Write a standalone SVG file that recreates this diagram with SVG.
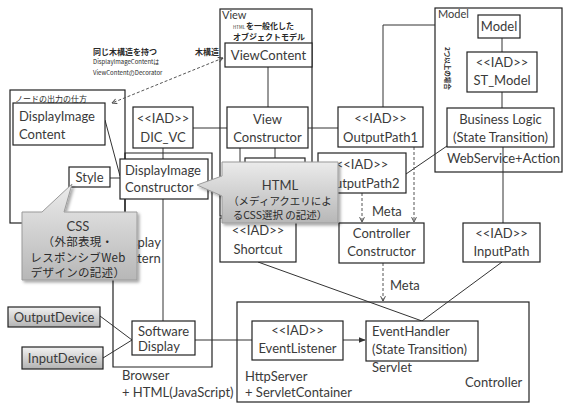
<svg xmlns="http://www.w3.org/2000/svg" width="565" height="406" viewBox="0 0 565 406">
<defs>
<linearGradient id="gCall" x1="0" y1="0" x2="0" y2="1"><stop offset="0" stop-color="#ebebeb"/><stop offset="1" stop-color="#b7b7b7"/></linearGradient>
<linearGradient id="gDev" x1="0" y1="0" x2="0" y2="1"><stop offset="0" stop-color="#f2f2f2"/><stop offset="1" stop-color="#b3b3b3"/></linearGradient>
<filter id="sh" x="-10%" y="-10%" width="130%" height="130%"><feDropShadow dx="2" dy="2" stdDeviation="1.5" flood-color="#000" flood-opacity="0.35"/></filter>
<marker id="ao" viewBox="0 0 10 10" refX="9" refY="5" markerWidth="6" markerHeight="6" orient="auto-start-reverse"><path d="M1,1 L9,5 L1,9" fill="none" stroke="#444" stroke-width="1.6"/></marker>
<marker id="af" viewBox="0 0 10 10" refX="9" refY="5" markerWidth="7" markerHeight="7" orient="auto"><path d="M0,1 L10,5 L0,9 Z" fill="#333"/></marker>
</defs>
<style>
.box{fill:#fff;stroke:#222;stroke-width:1.2}
.dev{fill:url(#gDev);stroke:#222;stroke-width:1.2}
.cont{fill:none;stroke:#222;stroke-width:1.2}
.ln{stroke:#333;stroke-width:1;fill:none}
.dash{stroke:#555;stroke-width:1;stroke-dasharray:3,2;fill:none}
.call{fill:url(#gCall);stroke:#9a9a9a;stroke-width:1;filter:url(#sh)}
.t{font-family:Lato,"Noto Sans CJK JP",sans-serif;font-size:13px;fill:#3a3a3a}
.s{font-size:11px}
.c{text-anchor:middle}
.j{font-family:"Noto Sans CJK JP",sans-serif;fill:#2a2a2a}
</style>

<!-- containers -->
<g id="node-output-container">
<rect class="cont" x="10" y="90" width="115" height="133"/>
<text class="j" x="15" y="102" font-size="8">ノードの出力の仕方</text>
</g>
<g id="browser">
<path class="cont" d="M125,153 H212 V367 H113 V245 H125 Z"/>
<text class="t" x="119" y="247">Display</text>
<text class="t" x="119" y="263">Pattern</text>
<text class="t" x="122" y="380">Browser</text>
<text class="t" x="122" y="397">+ HTML(JavaScript)</text>
</g>
<g id="view">
<rect class="cont" x="220" y="9" width="92" height="207"/>
<text class="t s" x="222" y="19">View</text>
<text class="j" x="233" y="29" font-size="4.5">HTML</text>
<text class="j" x="246" y="29" font-size="8" font-weight="bold">を一般化した</text>
<text class="j" x="233" y="40" font-size="8" font-weight="bold">オブジェクトモデル</text>
</g>
<g id="model">
<rect class="cont" x="435" y="8" width="127" height="164"/>
<text class="t s" x="438" y="18">Model</text>
<text class="j" transform="translate(445,47) rotate(90)" font-size="6.5" font-weight="bold">2つ以上の場合</text>
<text class="t" x="447" y="163">WebService+Action</text>
</g>
<g id="controller">
<rect class="cont" x="237" y="302" width="292" height="100"/>
<text class="t" x="465" y="387">Controller</text>
<text class="t" x="245" y="381">HttpServer</text>
<text class="t" x="245" y="397">+ ServletContainer</text>
<text class="t" x="372" y="372">Servlet</text>
</g>

<!-- annotations -->
<g id="annotation">
<text class="j" x="93" y="55" font-size="8" font-weight="bold">同じ木構造を持つ</text>
<text class="j" x="93" y="64" font-size="6" fill="#444">DisplayImageContentは</text>
<text class="j" x="93" y="75" font-size="6" fill="#444">ViewContentのDecorator</text>
<text class="j" x="195" y="55" font-size="8" font-weight="bold">木構造</text>
</g>

<!-- connectors -->
<g id="connectors">
<line class="dash" x1="223" y1="58" x2="112" y2="103" marker-start="url(#ao)" marker-end="url(#ao)"/>
<line class="ln" x1="268" y1="67" x2="268" y2="107"/>
<line class="ln" x1="193" y1="128" x2="227" y2="128"/>
<line class="ln" x1="308" y1="128" x2="338" y2="128"/>
<path class="ln" d="M383,107 V25 H435"/>
<line class="ln" x1="275" y1="148" x2="275" y2="158"/>
<line class="ln" x1="240" y1="148" x2="240" y2="218"/>
<line class="ln" x1="163" y1="148" x2="163" y2="159"/>
<line class="ln" x1="163" y1="199" x2="163" y2="321"/>
<line class="ln" x1="110" y1="178" x2="120" y2="178"/>
<line class="ln" x1="105" y1="120" x2="120" y2="176"/>
<line class="ln" x1="100" y1="316" x2="132" y2="340"/>
<line class="ln" x1="103" y1="358" x2="132" y2="340"/>
<line class="ln" x1="195" y1="340" x2="252" y2="340"/>
<line class="ln" x1="343" y1="340" x2="365" y2="340" marker-end="url(#af)"/>
<line class="ln" x1="258" y1="262" x2="422" y2="321"/>
<line class="ln" x1="502" y1="262" x2="422" y2="321"/>
<line class="ln" x1="503" y1="147" x2="503" y2="223"/>
<line class="ln" x1="502" y1="38" x2="502" y2="52"/>
<line class="ln" x1="502" y1="92" x2="502" y2="108"/>
<line class="ln" x1="447" y1="146" x2="406" y2="174"/>
<line class="dash" x1="362" y1="193" x2="362" y2="222" marker-end="url(#ao)"/>
<line class="dash" x1="414" y1="147" x2="414" y2="222" marker-end="url(#ao)"/>
<line class="dash" x1="383" y1="263" x2="383" y2="301" marker-end="url(#ao)"/>
<text class="t" x="372" y="216">Meta</text>
<text class="t" x="390" y="290">Meta</text>
</g>

<!-- nodes -->
<g id="DisplayImageContent"><rect class="box" x="13" y="103" width="92" height="42"/>
<text class="t" x="19" y="121">DisplayImage</text><text class="t" x="19" y="139">Content</text></g>
<g id="Style"><rect class="box" x="69" y="167" width="41" height="20"/><text class="t c" x="89.5" y="182">Style</text></g>
<g id="DIC_VC"><rect class="box" x="133" y="107" width="60" height="41"/>
<text class="t c" x="163" y="123">&lt;&lt;IAD&gt;&gt;</text><text class="t c" x="163" y="142">DIC_VC</text></g>
<g id="DisplayImageConstructor"><rect class="box" x="120" y="159" width="88" height="40"/>
<text class="t" x="125" y="175">DisplayImage</text><text class="t" x="125" y="192">Constructor</text></g>
<g id="ViewContent"><rect class="box" x="225" y="43" width="87" height="24"/><text class="t c" x="268.5" y="60">ViewContent</text></g>
<g id="ViewConstructor"><rect class="box" x="227" y="107" width="81" height="41"/>
<text class="t c" x="267.5" y="124">View</text><text class="t c" x="267.5" y="142">Constructor</text></g>
<g id="HTMLNode"><rect class="box" x="245" y="158" width="60" height="52"/></g>
<g id="OutputPath1"><rect class="box" x="338" y="107" width="85" height="40"/>
<text class="t c" x="380.5" y="123">&lt;&lt;IAD&gt;&gt;</text><text class="t c" x="380.5" y="142">OutputPath1</text></g>
<g id="OutputPath2"><rect class="box" x="318" y="153" width="88" height="40"/>
<text class="t c" x="362" y="169">&lt;&lt;IAD&gt;&gt;</text><text class="t c" x="362" y="188">OutputPath2</text></g>
<g id="ModelNode"><rect class="box" x="478" y="15" width="42" height="23"/><text class="t c" x="499" y="31">Model</text></g>
<g id="ST_Model"><rect class="box" x="467" y="52" width="70" height="40"/>
<text class="t c" x="502" y="67">&lt;&lt;IAD&gt;&gt;</text><text class="t c" x="502" y="85">ST_Model</text></g>
<g id="BusinessLogic"><rect class="box" x="447" y="108" width="107" height="39"/>
<text class="t c" x="500.5" y="124">Business Logic</text><text class="t c" x="500.5" y="142">(State Transition)</text></g>
<g id="Shortcut"><rect class="box" x="220" y="218" width="76" height="44"/>
<text class="t c" x="258" y="235">&lt;&lt;IAD&gt;&gt;</text><text class="t c" x="258" y="254">Shortcut</text></g>
<g id="ControllerConstructor"><rect class="box" x="339" y="223" width="85" height="40"/>
<text class="t c" x="381.5" y="238">Controller</text><text class="t c" x="381.5" y="256">Constructor</text></g>
<g id="InputPath"><rect class="box" x="463" y="223" width="77" height="39"/>
<text class="t c" x="501.5" y="238">&lt;&lt;IAD&gt;&gt;</text><text class="t c" x="501.5" y="256">InputPath</text></g>
<g id="OutputDevice"><rect class="dev" x="8" y="307" width="92" height="20"/><text class="t c" x="54" y="322">OutputDevice</text></g>
<g id="InputDevice"><rect class="dev" x="22" y="347" width="81" height="22"/><text class="t c" x="62.5" y="363">InputDevice</text></g>
<g id="SoftwareDisplay"><rect class="box" x="132" y="321" width="63" height="34"/>
<text class="t" x="138" y="336">Software</text><text class="t" x="138" y="351">Display</text></g>
<g id="EventListener"><rect class="box" x="252" y="321" width="91" height="39"/>
<text class="t c" x="297.5" y="335">&lt;&lt;IAD&gt;&gt;</text><text class="t c" x="297.5" y="353">EventListener</text></g>
<g id="EventHandler"><rect class="box" x="366" y="321" width="112" height="40"/>
<text class="t" x="372" y="336">EventHandler</text><text class="t" x="372" y="354">(State Transition)</text></g>

<!-- callouts -->
<g id="HTMLCallout">
<path class="call" d="M222,162 H338 V223 H222 V196 L197,185 L222,176 Z"/>
<text class="t c" x="280" y="190" font-size="17">HTML</text>
<text class="j c" x="280" y="205" font-size="10.5">（メディアクエリによ</text>
<text class="j c" x="280" y="219" font-size="10.5">るCSS選択 の記述）</text>
</g>
<g id="CSSCallout">
<path class="call" d="M22,212 H42 L72,184 L64,212 H137 V280 H22 Z"/>
<text class="t c" x="78" y="231" font-size="17">CSS</text>
<text class="j c" x="78" y="246" font-size="11.5" letter-spacing="0.3">（外部表現・</text>
<text class="j c" x="78" y="262" font-size="11.5" letter-spacing="0.3">レスポンシブWeb</text>
<text class="j c" x="78" y="277" font-size="11.5" letter-spacing="0.3">デザインの記述）</text>
</g>
</svg>
